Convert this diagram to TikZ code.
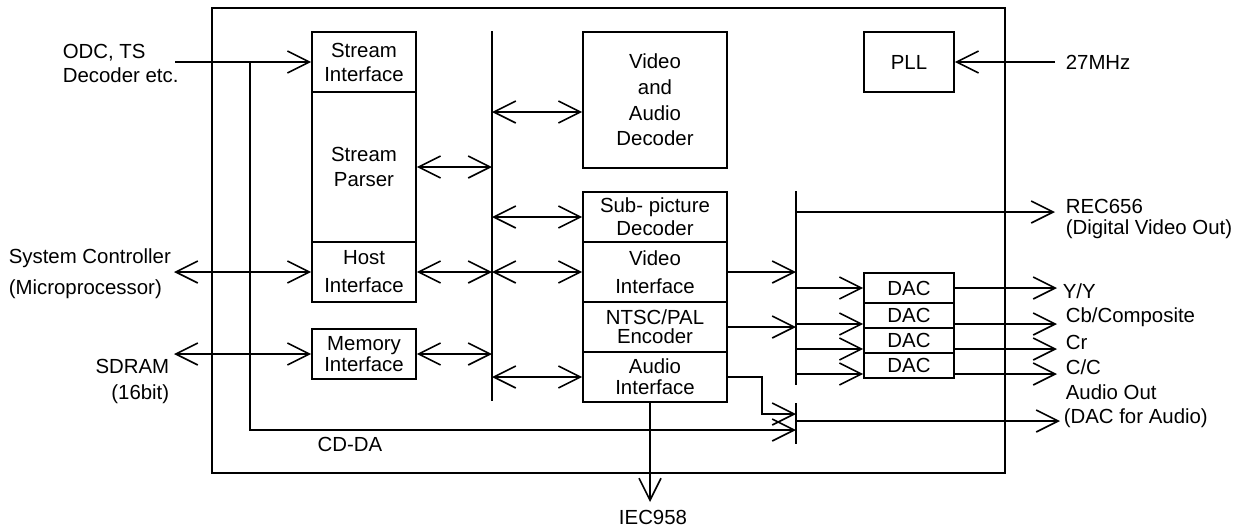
\documentclass[tikz,border=0pt]{standalone}
\usepackage{fontspec}
\setmainfont{Liberation Sans}
\usetikzlibrary{arrows.meta,calc}
\begin{document}
\begin{tikzpicture}[x=0.5pt,y=-0.5pt,
  line width=0.8pt,
  font=\fontsize{10.2}{12}\selectfont,
  tip/.style={-{Straight Barb[length=11pt,width=11pt]}},
  dtip/.style={{Straight Barb[length=11pt,width=11pt]}-{Straight Barb[length=11pt,width=11pt]}},
  blk/.style 2 args={draw,minimum width=#1*0.5pt,minimum height=#2*0.5pt,inner sep=0pt,align=center},
  ls/.style={font=\fontsize{10.2}{#1}\selectfont},
  lbl/.style={inner sep=0pt}
]
\useasboundingbox (0,0) rectangle (1241,527);

% outer chip frame
\node[blk={793}{465}] (chip) at (608.5,240.5) {};

% left column blocks
\node[blk={104}{60},ls=12] (SI) at (364,62) {Stream\\Interface};
\node[blk={104}{150},ls=12.5] (SP) at (364,167) {Stream\\Parser};
\node[blk={104}{60},ls=14] (HI) at (364,272) {Host\\Interface};
\node[blk={104}{50},ls=9] (MI) at (364,354) {Memory\\Interface};

% middle column blocks
\node[blk={144}{136},ls=12.8] (VAD) at (655,100) {Video\\and\\Audio\\Decoder};
\node[blk={144}{50},ls=11.5] (SPD) at (655,217) {Sub- picture\\Decoder};
\node[blk={144}{60},ls=14] (VI) at (655,272) {Video\\Interface};
\node[blk={144}{50},ls=9.5] (NE) at (655,327) {NTSC/PAL\\Encoder};
\node[blk={144}{50},ls=10.5] (AI) at (655,377) {Audio\\Interface};

% right blocks
\node[blk={90}{60}] (PLL) at (909,62) {PLL};
\node[blk={90}{30}] (DAC1) at (909,288) {DAC};
\node[blk={90}{25}] (DAC2) at (909,315.5) {DAC};
\node[blk={90}{25}] (DAC3) at (909,340.5) {DAC};
\node[blk={90}{25}] (DAC4) at (909,365.5) {DAC};

% buses
\coordinate (b1t) at (492,31);
\coordinate (b1b) at (492,401);
\coordinate (b2t) at (796,191);
\coordinate (b2b) at (796,385);
\coordinate (b3t) at (796,403);
\coordinate (b3b) at (796,444);
\draw (b1t) -- (b1b);
\draw (b2t) -- (b2b);
\draw (b3t) -- (b3b);

% helper coordinates
\coordinate (odcin) at (175,62);
\coordinate (cdtap) at (250,62);
\coordinate (cdend) at (796,430);
\coordinate (sysin) at (174,272);
\coordinate (sdin) at (174,354);
\coordinate (vadin) at ([yshift=-6pt]VAD.west);
\coordinate (aibend) at (762,414);
\coordinate (recout) at (1055,212);
\coordinate (outx) at (1057,0);
\coordinate (aout) at (1060,421);
\coordinate (clk) at (1055,62);
\coordinate (aisouth) at ([xshift=-2.5pt]AI.south);
\coordinate (iec) at (650,502);
\coordinate (d2in) at ([yshift=-4.25pt]DAC2.west);
\coordinate (d3in) at ([yshift=-4.25pt]DAC3.west);
\coordinate (d4in) at ([yshift=-4.25pt]DAC4.west);
\coordinate (d2out) at ([yshift=-4.25pt]DAC2.east);
\coordinate (d3out) at ([yshift=-4.25pt]DAC3.east);
\coordinate (d4out) at ([yshift=-4.25pt]DAC4.east);

% left inputs
\draw[tip] (odcin) -- (SI.west);
\draw[tip] (cdtap) |- (cdend);
\draw[dtip] (sysin) -- (HI.west);
\draw[dtip] (sdin) -- (MI.west);

% bus 1 connections
\draw[dtip] (SP.east) -- (SP.east -| b1t);
\draw[dtip] (HI.east) -- (HI.east -| b1t);
\draw[dtip] (MI.east) -- (MI.east -| b1t);
\draw[dtip] (b1t |- vadin) -- (vadin);
\draw[dtip] (b1t |- SPD.west) -- (SPD.west);
\draw[dtip] (b1t |- VI.west) -- (VI.west);
\draw[dtip] (b1t |- AI.west) -- (AI.west);

% bus 2 connections
\draw[tip] (VI.east) -- (VI.east -| b2t);
\draw[tip] (NE.east) -- (NE.east -| b2t);
\draw[tip] (AI.east) -| (aibend) -- (aibend -| b2t);
\draw[tip] (b2t |- recout) -- (recout);
\draw[tip] (b2t |- DAC1.west) -- (DAC1.west);
\draw[tip] (b2t |- d2in) -- (d2in);
\draw[tip] (b2t |- d3in) -- (d3in);
\draw[tip] (b2t |- d4in) -- (d4in);
\draw[tip] (b3t |- aout) -- (aout);

% DAC outputs
\draw[tip] (DAC1.east) -- (DAC1.east -| outx);
\draw[tip] (d2out) -- (d2out -| outx);
\draw[tip] (d3out) -- (d3out -| outx);
\draw[tip] (d4out) -- (d4out -| outx);

% clock and IEC958
\draw[tip] (clk) -- (PLL.east);
\draw[tip] (aisouth) -- (aisouth |- iec);

% labels
\node[lbl,anchor=west,align=left] (lodc) at (62,63) {ODC, TS\\Decoder etc.};
\node[lbl,anchor=west,align=left,ls=15.5] (lsys) at (8,274) {System Controller\\(Microprocessor)};
\node[lbl,anchor=east,align=right,ls=13] (lsdram) at (170,381) {SDRAM\\(16bit)};
\node[lbl] (lcdda) at (350,444) {CD-DA};
\node[lbl] (liec) at (653,517) {IEC958};
\node[lbl,anchor=west] (lclk) at (1065,62) {27MHz};
\node[lbl,anchor=west,align=left,ls=10.5] (lrec) at (1065,219) {REC656\\(Digital Video Out)};
\node[lbl,anchor=west] (ly) at (1062,291) {Y/Y};
\node[lbl,anchor=west] (lcb) at (1065,317) {Cb/Composite};
\node[lbl,anchor=west] (lcr) at (1065,342) {Cr};
\node[lbl,anchor=west] (lcc) at (1065,367) {C/C};
\node[lbl,anchor=west] (lao) at (1065,392) {Audio Out};
\node[lbl,anchor=west] (ldac) at (1063,418) {(DAC for Audio)};
\end{tikzpicture}
\end{document}
